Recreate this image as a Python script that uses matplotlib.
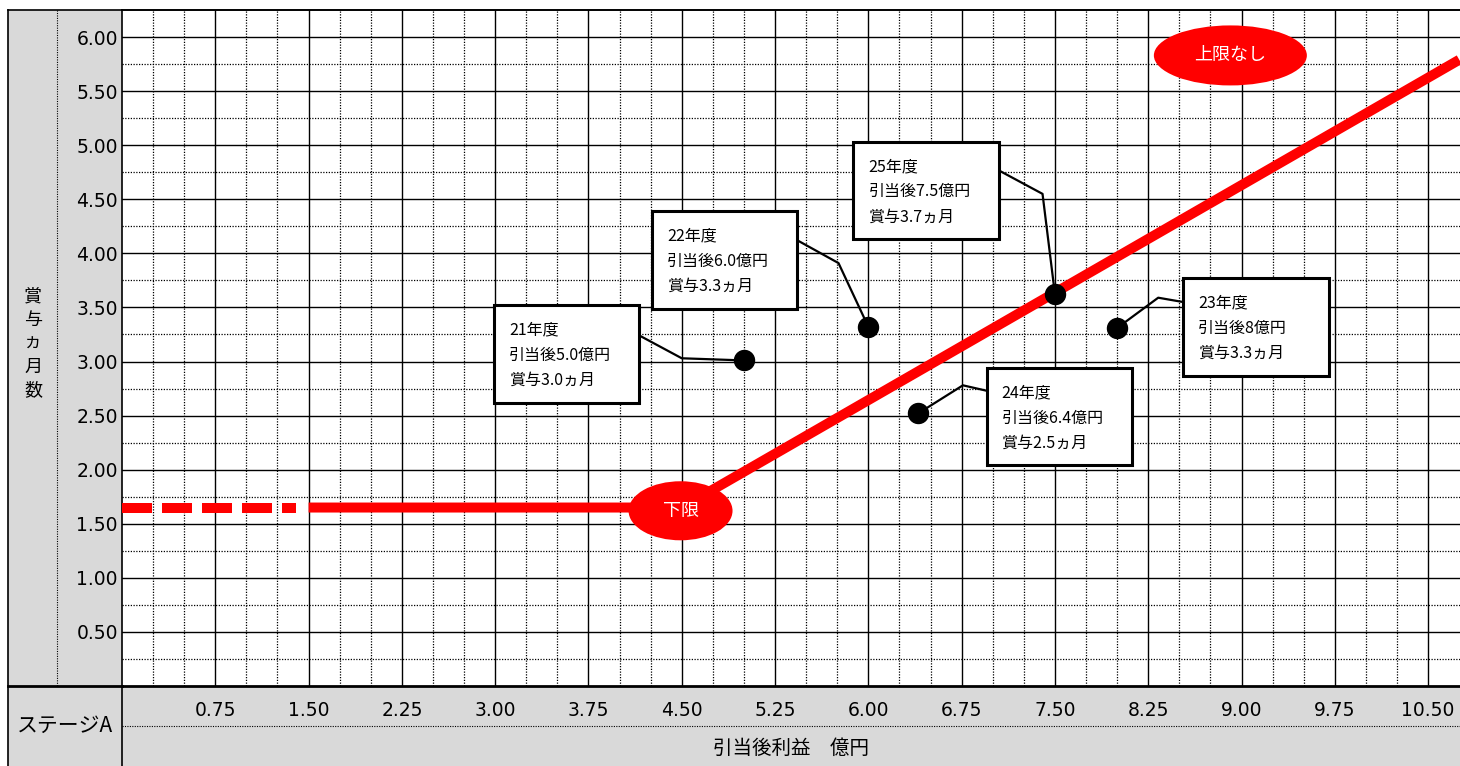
import matplotlib
matplotlib.use("Agg")
import numpy as np
import matplotlib.pyplot as plt
from matplotlib.patches import Rectangle, Ellipse
from matplotlib.lines import Line2D

plt.rcParams['font.family'] = ['DejaVu Sans', 'Noto Sans CJK JP']
JP = ['Noto Sans CJK JP', 'DejaVu Sans']

# axis ticks
x_ticks = [0.75, 1.5, 2.25, 3.0, 3.75, 4.5, 5.25, 6.0, 6.75, 7.5, 8.25, 9.0, 9.75, 10.5]
x_tick_labels = ["0.75", "1.50", "2.25", "3.00", "3.75", "4.50", "5.25", "6.00",
                 "6.75", "7.50", "8.25", "9.00", "9.75", "10.50"]
y_ticks = [0.5, 1.0, 1.5, 2.0, 2.5, 3.0, 3.5, 4.0, 4.5, 5.0, 5.5, 6.0]
y_tick_labels = ["0.50", "1.00", "1.50", "2.00", "2.50", "3.00", "3.50", "4.00",
                 "4.50", "5.00", "5.50", "6.00"]

# yearly results
years = ["21年度", "22年度", "23年度", "24年度", "25年度"]
profit_text = ["5.0", "6.0", "8", "6.4", "7.5"]
bonus_text = ["3.0", "3.3", "3.3", "2.5", "3.7"]
profit = [5.0, 6.0, 8.0, 6.4, 7.5]
bonus = [3.01, 3.32, 3.31, 2.52, 3.62]

# bonus rule line (red)
dash_x = [0.0, 1.4]
dash_y = [1.65, 1.65]
rule_x = [1.5, 4.5, 10.75]
rule_y = [1.65, 1.65, 5.79]

# callout layout: box left/top, connector start, connector elbow (data units)
box_left = [2.99, 4.26, 8.53, 6.95, 5.88]
box_top = [3.52, 4.39, 3.77, 2.94, 5.03]
conn_start = [(4.16, 3.24), (5.43, 4.12), (8.53, 3.55), (6.95, 2.73), (7.06, 4.76)]
conn_elbow = [(4.50, 3.03), (5.76, 3.91), (8.33, 3.59), (6.76, 2.78), (7.40, 4.55)]
box_w, box_h = 1.17, 0.90

W, H = 1460, 766
GRAY = '#d9d9d9'
fig = plt.figure(figsize=(W / 100, H / 100), dpi=100)


def fline(xs, ys, **kw):
    fig.add_artist(Line2D([x / W for x in xs], [1 - y / H for y in ys],
                          transform=fig.transFigure, **kw))


# grey header cells
fig.patches.append(Rectangle((8 / W, 1 - 686 / H), 114 / W, 676 / H, transform=fig.transFigure,
                             facecolor=GRAY, edgecolor='none', zorder=-5))
fig.patches.append(Rectangle((8 / W, 0), (W - 8) / W, 80 / H, transform=fig.transFigure,
                             facecolor=GRAY, edgecolor='none', zorder=-5))

ax = fig.add_axes([122 / W, 80 / H, 1338 / W, 676 / H])
ax.set_xlim(0, 10.756)
ax.set_ylim(0, 6.25)
ax.set_facecolor('white')

ax.set_xticks(x_ticks)
ax.set_xticklabels(x_tick_labels, fontsize=13.5)
ax.set_yticks(y_ticks)
ax.set_yticklabels(y_tick_labels, fontsize=13.5)
ax.set_xticks(np.arange(0.25, 10.75, 0.25), minor=True)
ax.set_yticks(np.arange(0.25, 6.25, 0.25), minor=True)
ax.tick_params(which='both', length=0)
ax.tick_params(axis='x', pad=10.5)
ax.tick_params(axis='y', pad=3)
ax.grid(which='major', color='black', lw=1.0)
ax.grid(which='minor', color='black', lw=0.9, linestyle=(0, (1, 1.2)))
ax.set_axisbelow(True)
ax.spines['right'].set_visible(False)
ax.spines['bottom'].set_linewidth(2)
for s in ['left', 'top']:
    ax.spines[s].set_linewidth(1.2)

# red rule line
ax.plot(dash_x, dash_y, color='#ff0000', lw=7.2, dashes=(3, 1), dash_capstyle='butt', zorder=3)
ax.plot(rule_x, rule_y, color='#ff0000', lw=7.2, solid_capstyle='butt', zorder=3)

ax.add_patch(Ellipse((4.49, 1.62), 0.836, 0.546, facecolor='#ff0000', edgecolor='none', zorder=4))
ax.text(4.49, 1.62, "下限", color='white', fontsize=13, family=JP, ha='center', va='center', zorder=5)
ax.add_patch(Ellipse((8.91, 5.83), 1.23, 0.555, facecolor='#ff0000', edgecolor='none', zorder=4))
ax.text(8.91, 5.83, "上限なし", color='white', fontsize=13, family=JP, ha='center', va='center', zorder=5)

# yearly points and callouts
ax.plot(profit, bonus, 'o', color='black', markersize=14.4, zorder=6)
for i in range(len(years)):
    ax.plot([conn_start[i][0], conn_elbow[i][0], profit[i]],
            [conn_start[i][1], conn_elbow[i][1], bonus[i]],
            color='black', lw=1.6, zorder=5)
    ax.add_patch(Rectangle((box_left[i], box_top[i] - box_h), box_w, box_h,
                           facecolor='white', edgecolor='black', lw=2.2, zorder=7))
    lines = [years[i], "引当後" + profit_text[i] + "億円", "賞与" + bonus_text[i] + "ヵ月"]
    for k, t in enumerate(lines):
        ax.text(box_left[i] + 0.12, box_top[i] - 0.23 - k * 0.232, t, fontsize=11.5,
                family=JP, ha='left', va='center', zorder=8)

# frame lines of the table
fline([8, W], [10, 10], color='black', lw=1.2)
fline([8, 8], [10, H], color='black', lw=1.2)
fline([8, 122], [686, 686], color='black', lw=2)
fline([122, 122], [686, H], color='black', lw=1.2)
fline([57, 57], [10, 686], color='black', lw=0.8, linestyle=(0, (1, 1.2)))
fline([122, W], [726, 726], color='black', lw=0.8, linestyle=(0, (1, 1.2)))

# header texts
for k, ch in enumerate("賞与ヵ月数"):
    fig.text(33 / W, 1 - (296 + k * 23.5) / H, ch, fontsize=13, family=JP,
             ha='center', va='center')
fig.text(65 / W, 1 - 726 / H, "ステージA", fontsize=15, family=JP, ha='center', va='center')
fig.text(791 / W, 1 - 748 / H, "引当後利益　億円", fontsize=14, family=JP, ha='center', va='center')

fig.savefig("out.png", dpi=100)
